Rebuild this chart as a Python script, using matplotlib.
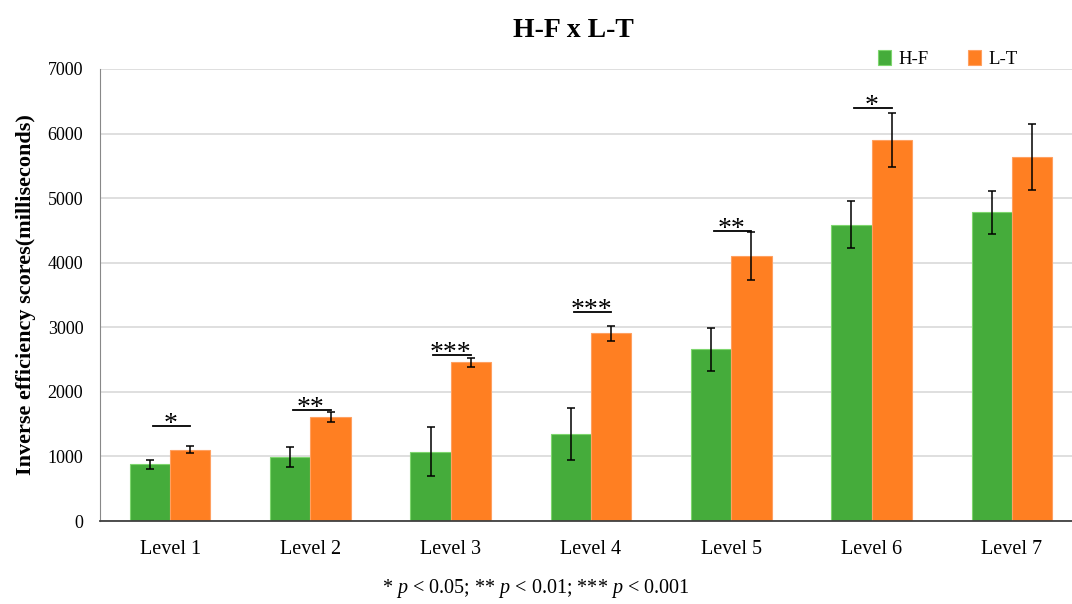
import numpy as np
import matplotlib
matplotlib.use("Agg")
import matplotlib.pyplot as plt

plt.rcParams['font.family'] = ['Liberation Serif', 'DejaVu Serif']
plt.rcParams['mathtext.fontset'] = 'custom'
plt.rcParams['mathtext.rm'] = 'Liberation Serif'
plt.rcParams['mathtext.it'] = 'Liberation Serif:italic'

# values
levels = ["Level 1", "Level 2", "Level 3", "Level 4", "Level 5", "Level 6", "Level 7"]
hf_mean = [880, 990, 1075, 1350, 2660, 4590, 4780]
hf_err = [70, 160, 375, 400, 330, 360, 330]
lt_mean = [1105, 1610, 2455, 2905, 4100, 5895, 5640]
lt_err = [55, 75, 70, 120, 370, 420, 510]
# significance markers (level index, label, bracket height)
sig_idx = [0, 1, 2, 3, 4, 5]
sig_lab = ["*", "**", "***", "***", "**", "*"]
sig_y = [1470, 1725, 2570, 3235, 4490, 6390]

green = '#45AC3B'
orange = '#FF7F22'

fig = plt.figure(figsize=(10.72, 6.04), dpi=100)
ax = fig.add_axes([0.0933, 0.1374, 0.916, 0.7484])

x = np.arange(len(levels))
w = 0.287
ax.bar(x - w / 2, hf_mean, w, color=green, edgecolor='#7ED66E', linewidth=0.8,
       label='H-F', zorder=2)
ax.bar(x + w / 2, lt_mean, w, color=orange, edgecolor='#FFA060', linewidth=0.8,
       label='L-T', zorder=2)
ax.errorbar(x - w / 2, hf_mean, yerr=hf_err, fmt='none', ecolor='black',
            elinewidth=1.1, capsize=3, capthick=1.1, zorder=3)
ax.errorbar(x + w / 2, lt_mean, yerr=lt_err, fmt='none', ecolor='black',
            elinewidth=1.1, capsize=3, capthick=1.1, zorder=3)

for i, lab, yy in zip(sig_idx, sig_lab, sig_y):
    ax.plot([i - w / 2 + 0.02, i + w / 2], [yy, yy], color='black', lw=1.3, zorder=3)
    ax.text(i, yy - 170, lab, ha='center', va='bottom', fontsize=20, zorder=3)

ax.set_xlim(-0.5, 6.5)
ax.set_ylim(0, 7000)
ax.set_yticks(np.arange(0, 7001, 1000))
ax.set_xticks(x)
ax.set_xticklabels(levels)
ax.tick_params(axis='x', length=0, pad=14, labelsize=14.5)
ax.tick_params(axis='y', length=0, pad=12, labelsize=13)
ax.yaxis.grid(True, color='#D9D9D9', lw=1.2, zorder=0)
ax.set_axisbelow(True)
for s in ['top', 'right']:
    ax.spines[s].set_visible(False)
ax.spines['left'].set_color('#888888')
ax.spines['bottom'].set_color('#404040')
ax.spines['bottom'].set_linewidth(1.3)

ax.set_ylabel('Inverse efficiency scores(milliseconds)', fontsize=16,
              fontweight='bold', labelpad=8)

fig.text(0.535, 0.95, 'H-F x L-T', ha='center', va='center', fontsize=20,
         fontweight='bold')
ax.legend(loc='upper right', bbox_to_anchor=(0.952, 1.08), ncol=2, frameon=False,
          fontsize=13.5, handlelength=0.7, handleheight=0.9, columnspacing=2.1,
          handletextpad=0.4)

fig.text(0.5, 0.026, r'* $p$ < 0.05; ** $p$ < 0.01; *** $p$ < 0.001',
         ha='center', va='center', fontsize=14.5)

fig.savefig('out.png', dpi=100)
